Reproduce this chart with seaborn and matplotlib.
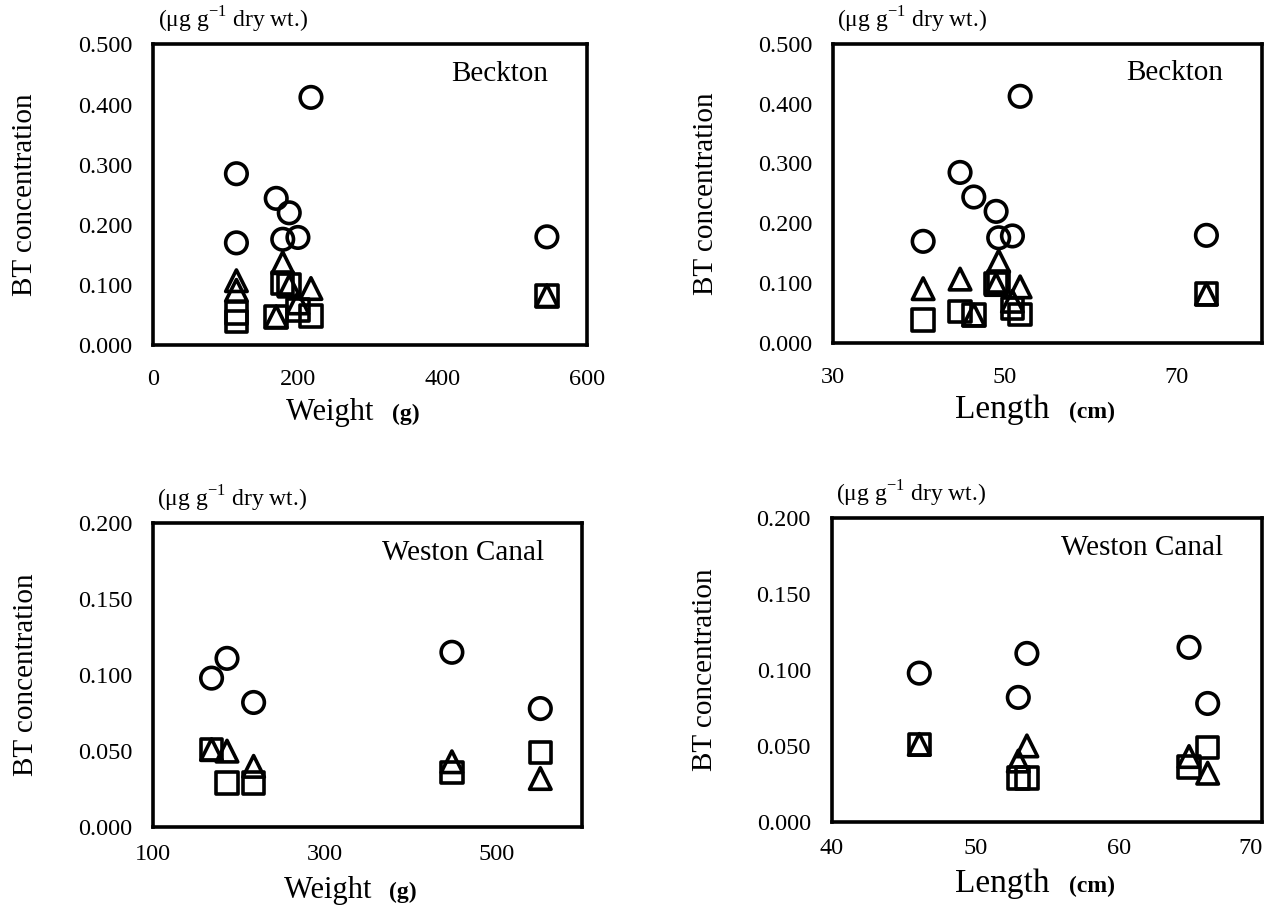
import numpy as np
import pandas as pd
import matplotlib.pyplot as plt
from matplotlib.ticker import FormatStrFormatter
import seaborn as sns

# Beckton: 8 fish, three BT values each (circle / triangle / square markers)
beckton_weight = [115, 115, 170, 179, 188, 200, 218, 544]
beckton_length = [40.5, 44.8, 46.4, 49.3, 49.0, 50.9, 51.8, 73.5]
beckton_circle = [0.170, 0.285, 0.244, 0.176, 0.220, 0.179, 0.412, 0.180]
beckton_triangle = [0.091, 0.107, 0.047, 0.137, 0.098, 0.070, 0.094, 0.082]
beckton_square = [0.039, 0.053, 0.047, 0.103, 0.100, 0.058, 0.048, 0.082]

# Weston Canal: 5 fish
weston_weight = [168, 186, 217, 448, 551]
weston_length = [46.1, 53.6, 53.0, 64.9, 66.2]
weston_circle = [0.098, 0.111, 0.082, 0.115, 0.078]
weston_triangle = [0.051, 0.050, 0.040, 0.043, 0.032]
weston_square = [0.051, 0.029, 0.029, 0.036, 0.049]

marker_map = {"circle": "o", "triangle": "^", "square": "s"}
shape_order = ["square", "triangle", "circle"]


def long_table(weight, length, circle, triangle, square):
    frames = []
    for shape, vals in zip(["circle", "triangle", "square"], [circle, triangle, square]):
        frames.append(pd.DataFrame({"weight": weight, "length": length,
                                    "conc": vals, "shape": shape}))
    return pd.concat(frames, ignore_index=True)


beckton = long_table(beckton_weight, beckton_length, beckton_circle,
                     beckton_triangle, beckton_square)
weston = long_table(weston_weight, weston_length, weston_circle,
                    weston_triangle, weston_square)

sns.set_style("white")
plt.rcParams['font.family'] = ['Liberation Serif', 'DejaVu Serif']
plt.rcParams['mathtext.fontset'] = 'custom'
plt.rcParams['mathtext.rm'] = 'Liberation Serif'
for key in ['text.color', 'axes.labelcolor', 'xtick.color', 'ytick.color']:
    plt.rcParams[key] = 'black'

fig = plt.figure(figsize=(12.66, 9.08), dpi=100)

# [left, bottom, width, height], data, x column, site, xlim, xticks, ymax, ystep, label, pad
panels = [
    ([0.121, 0.620, 0.343, 0.331], beckton, "weight", "Beckton",
     (0, 600), [0, 200, 400, 600], 0.5, 0.1, ("Weight", "(g)"), 17),
    ([0.658, 0.622, 0.339, 0.330], beckton, "length", "Beckton",
     (30, 80), [30, 50, 70], 0.5, 0.1, ("Length", "(cm)"), 17),
    ([0.121, 0.089, 0.339, 0.335], weston, "weight", "Weston Canal",
     (100, 600), [100, 300, 500], 0.2, 0.05, ("Weight", "(g)"), 12),
    ([0.657, 0.095, 0.340, 0.334], weston, "length", "Weston Canal",
     (40, 70), [40, 50, 60, 70], 0.2, 0.05, ("Length", "(cm)"), 12),
]

for rect, df, xcol, site, xlim, xticks, ymax, ystep, xlab, xpad in panels:
    ax = fig.add_axes(rect)
    sns.scatterplot(data=df, x=xcol, y="conc", style="shape", markers=marker_map,
                    style_order=shape_order, s=240, color="black",
                    facecolor="none", edgecolor="black", linewidth=2.6,
                    legend=False, ax=ax, zorder=3)
    ax.set_xlim(*xlim)
    ax.set_xticks(xticks)
    ax.set_ylim(0, ymax)
    ax.set_yticks(np.arange(0, ymax + ystep / 2, ystep))
    ax.yaxis.set_major_formatter(FormatStrFormatter('%.3f'))
    ax.tick_params(direction='in', length=4, width=2, labelsize=17.5)
    ax.tick_params(axis='y', pad=15)
    ax.tick_params(axis='x', pad=xpad)
    # last length label sits inside the right edge, as in the scan
    if xlim[1] == 70:
        ax.get_xticklabels()[-1].set_ha('right')
    for sp in ax.spines.values():
        sp.set_linewidth(2.6)
        sp.set_color('black')

    ax.set_xlabel("")
    ax.set_ylabel("BT concentration", fontsize=21)
    ax.yaxis.set_label_coords(-0.265, 0.5)

    xl_y = -0.25 if xpad > 15 else -0.232
    main_size = 22 if xlab[0] == "Weight" else 24
    ax.text(0.525, xl_y, xlab[0] + " ", transform=ax.transAxes, ha='right',
            va='baseline', fontsize=main_size)
    ax.text(0.55, xl_y, xlab[1], transform=ax.transAxes, ha='left',
            va='baseline', fontsize=17, fontweight='bold')

    ax.text(0.91, 0.88, site, transform=ax.transAxes, ha='right',
            va='baseline', fontsize=21)
    ax.text(0.01, 1.055, r"($\mathrm{\mu}$g g$^{\mathrm{-1}}$ dry wt.)",
            transform=ax.transAxes, ha='left', va='baseline', fontsize=17)

fig.savefig("out.png", dpi=100)
